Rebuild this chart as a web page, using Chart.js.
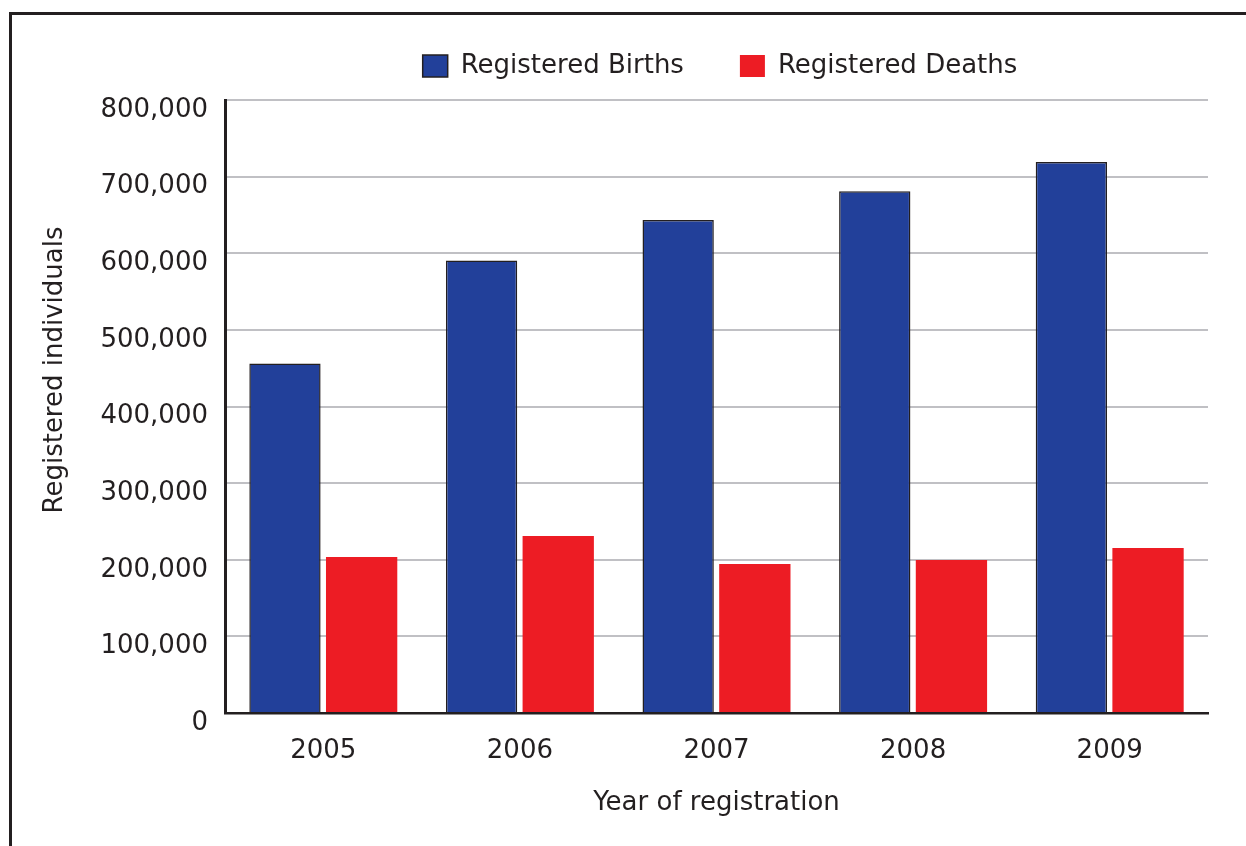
<!DOCTYPE html>
<html>
<head>
<meta charset="utf-8">
<script src="https://cdn.jsdelivr.net/npm/chart.js@4/dist/chart.umd.min.js"></script>
<style>
  html, body { margin: 0; padding: 0; background: #fff; overflow: hidden; }
  #wrap { position: relative; width: 1246px; height: 846px; }
  #frame { position: absolute; left: 9px; top: 12px; right: 0; bottom: 0;
           border-top: 3px solid #231f20; border-left: 3px solid #231f20; }
  canvas { position: absolute; left: 0; top: 0; }
</style>
</head>
<body>
<div id="wrap">
  <div id="frame"></div>
  <canvas id="chart" width="1246" height="846"></canvas>
</div>
<script>
// données
const annees = ['2005', '2006', '2007', '2008', '2009'];
const naissances = [456000, 590500, 643500, 681000, 719000];
const deces = [203600, 231000, 194500, 199700, 215300];
const yTicks = [0, 100000, 200000, 300000, 400000, 500000, 600000, 700000, 800000];
const titreY = 'Registered individuals';

const police = 'DejaVu Sans, Verdana, sans-serif';
const encre = '#231f20';
const taille = 26;

// légende + titre vertical dessinés à la main
const legendePerso = {
    id: 'legendePerso',
    afterDraw(chart) {
        const c = chart.ctx;
        c.save();
        c.font = taille + 'px ' + police;
        c.textBaseline = 'middle';
        c.textAlign = 'left';
        const box = 25, gapTxt = 13, gapItem = 56;
        const items = chart.data.datasets.map(ds => ({
            label: ds.label, color: ds.backgroundColor, border: ds.borderWidth ? ds.borderColor : null,
            w: box + gapTxt + c.measureText(ds.label).width
        }));
        const total = items.reduce((s, it) => s + it.w, 0) + gapItem * (items.length - 1);
        let x = 720 - total / 2;
        const yMid = 66;
        items.forEach(it => {
            c.fillStyle = it.color;
            c.fillRect(x, yMid - 11, box, 22);
            if (it.border) {
                c.strokeStyle = it.border;
                c.lineWidth = 1.5;
                c.strokeRect(x, yMid - 11, box, 22);
            }
            c.fillStyle = encre;
            c.fillText(it.label, x + box + gapTxt, yMid);
            x += it.w + gapItem;
        });

        // titre de l'axe Y (décalé vers le haut comme sur l'original)
        c.translate(55, 370);
        c.rotate(-Math.PI / 2);
        c.textAlign = 'center';
        c.fillText(titreY, 0, 0);
        c.restore();
    }
};

new Chart(document.getElementById('chart'), {
    type: 'bar',
    data: {
        labels: annees,
        datasets: [{
            label: 'Registered Births',
            data: naissances,
            backgroundColor: '#22409a',
            borderColor: encre,
            borderWidth: 1.5,
            categoryPercentage: 0.78,
            barPercentage: 0.93
        }, {
            label: 'Registered Deaths',
            data: deces,
            backgroundColor: '#ed1c24',
            borderWidth: 0,
            categoryPercentage: 0.78,
            barPercentage: 0.93
        }]
    },
    options: {
        responsive: false,
        animation: false,
        layout: { padding: { top: 100, right: 38, left: 0, bottom: 0 } },
        plugins: {
            legend: { display: false },
            tooltip: { enabled: false }
        },
        scales: {
            x: {
                grid: { display: false, drawTicks: false },
                border: { display: true, color: encre, width: 2.5 },
                ticks: { color: encre, font: { family: police, size: taille }, padding: 23 },
                title: {
                    display: true, text: 'Year of registration', color: encre,
                    font: { family: police, size: taille }, padding: { top: 0, bottom: 27 }
                },
                afterFit(scale) { scale.height = 133; }
            },
            y: {
                min: 0,
                max: 800000,
                afterBuildTicks(scale) { scale.ticks = yTicks.map(v => ({ value: v })); },
                grid: { color: '#c0c0c4', lineWidth: 2, drawTicks: false },
                border: { display: true, color: encre, width: 3 },
                ticks: {
                    color: encre, font: { family: police, size: taille }, padding: 17,
                    labelOffset: 10,
                    callback: v => v.toLocaleString('en-US')
                },
                afterFit(scale) { scale.width = 225; }
            }
        }
    },
    plugins: [legendePerso]
});
</script>
</body>
</html>
